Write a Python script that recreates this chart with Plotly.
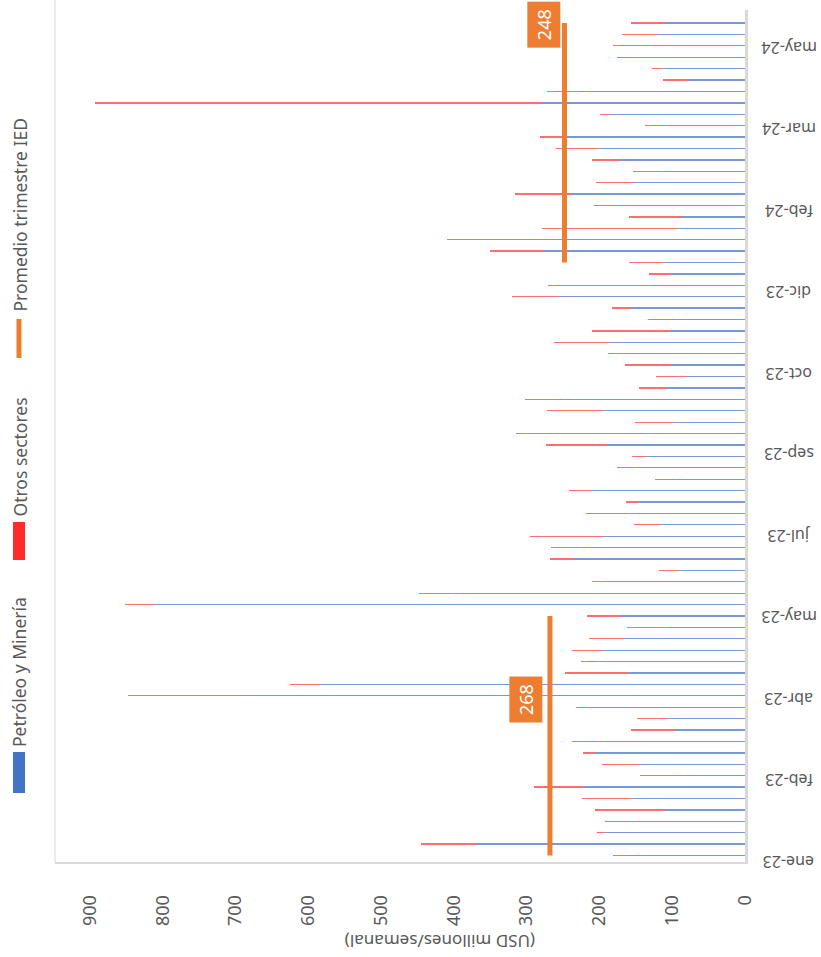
import pandas as pd
import plotly.graph_objects as go

# ---------------- data ----------------
week_start = "2023-01-05"
n_weeks = 74
semanas = pd.date_range(week_start, periods=n_weeks, freq="7D")

petroleo_mineria = [159, 370, 192, 159, 110, 156, 221, 85, 145, 206,
                    195, 96, 106, 214, 694, 584, 161, 199, 195, 166,
                    103, 170, 811, 401, 191, 92, 236, 227, 194, 117,
                    160, 145, 212, 98, 151, 136, 189, 135, 98, 192,
                    250, 107, 81, 101, 173, 187, 103, 95, 156, 255,
                    142, 101, 112, 276, 261, 94, 86, 186, 238, 152,
                    113, 172, 202, 245, 118, 185, 280, 216, 79, 114,
                    169, 140, 121, 110]
total_semana = [181, 445, 203, 193, 206, 224, 290, 144, 197, 222,
                238, 156, 148, 232, 848, 625, 247, 225, 238, 214,
                162, 217, 852, 448, 210, 118, 268, 267, 295, 153,
                219, 164, 242, 124, 176, 155, 273, 315, 151, 272,
                302, 146, 122, 165, 188, 262, 210, 133, 183, 320,
                270, 132, 160, 350, 410, 279, 160, 208, 316, 205,
                154, 210, 259, 282, 137, 199, 893, 272, 113, 128,
                176, 181, 169, 156]
otros_sectores = [t - p for t, p in zip(total_semana, petroleo_mineria)]

promedio_ied = [268] * 22 + [None] * 30 + [248] * 22
etiquetas_fechas = ["2023-04-11", "2024-05-29"]
etiquetas_valores = [268, 248]

tick_fechas = ["2023-01-01", "2023-02-20", "2023-04-11", "2023-05-31",
               "2023-07-20", "2023-09-08", "2023-10-28", "2023-12-17",
               "2024-02-05", "2024-03-26", "2024-05-15"]
tick_textos = ["ene-23", "feb-23", "abr-23", "may-23", "jul-23", "sep-23",
               "oct-23", "dic-23", "feb-24", "mar-24", "may-24"]
x_ticks = [0, 100, 200, 300, 400, 500, 600, 700, 800, 900]

# ---------------- layout constants ----------------
W, H = 821, 957
L, R, T, B = 55, 745, 10, 862
GRAY = "#595959"
FONT = "Noto Sans"
BLUE = "#4472C4"
RED = "#FF2A2A"
ORANGE = "#ED7D31"


def px(xp):
    return (xp - L) / (R - L)


def py(yp):
    return (B - yp) / (B - T)


fig = go.Figure()
bar_w = 86400000 * 0.8
fig.add_trace(go.Bar(y=semanas, x=petroleo_mineria, orientation="h",
                     name="Petróleo y Minería", marker=dict(color=BLUE, line=dict(width=0)),
                     width=bar_w, opacity=0.72))
fig.add_trace(go.Bar(y=semanas, x=otros_sectores, orientation="h",
                     name="Otros sectores", marker=dict(color=RED, line=dict(width=0)),
                     width=bar_w, opacity=0.68))
fig.add_trace(go.Scatter(y=semanas, x=promedio_ied, mode="lines",
                         name="Promedio trimestre IED",
                         line=dict(color=ORANGE, width=5), connectgaps=False))

annotations = []
label_shifts = [-24, -21]
for fecha, val, xs in zip(etiquetas_fechas, etiquetas_valores, label_shifts):
    annotations.append(dict(x=val, y=fecha, xref="x", yref="y",
                            text="\u2009" + str(val) + "\u2009",
                            showarrow=False, textangle=-90, xshift=xs,
                            xanchor="center", yanchor="middle",
                            bgcolor=ORANGE, borderpad=4,
                            font=dict(family=FONT, size=18, color="white")))

# date tick labels (upside down)
for f, t in zip(tick_fechas, tick_textos):
    annotations.append(dict(x=px(789), y=f, xref="paper", yref="y", text=t,
                            showarrow=False, textangle=180,
                            xanchor="center", yanchor="middle",
                            font=dict(family=FONT, size=16, color=GRAY)))

# legend (rotated)
leg = [("Petróleo y Minería", 793, 752, "bar", BLUE),
       ("Otros sectores", 560, 522, "bar", RED),
       ("Promedio trimestre IED", 360, 317, "line", ORANGE)]
shapes = []
for txt, y0, y1, kind, col in leg:
    if kind == "bar":
        shapes.append(dict(type="rect", xref="paper", yref="paper",
                           x0=px(13), x1=px(25), y0=py(y0), y1=py(y1),
                           fillcolor=col, line=dict(width=0)))
    else:
        shapes.append(dict(type="line", xref="paper", yref="paper",
                           x0=px(19), x1=px(19), y0=py(y0 - 2), y1=py(y1 + 2),
                           line=dict(color=col, width=5)))
    annotations.append(dict(x=px(19), y=py(y1 - 3), xref="paper", yref="paper",
                            text=txt, showarrow=False, textangle=-90,
                            xanchor="center", yanchor="bottom",
                            font=dict(family=FONT, size=17.5, color=GRAY)))

# left border line
shapes.append(dict(type="line", xref="paper", yref="paper", x0=0, x1=0, y0=0, y1=1.02,
                   line=dict(color="#D9D9D9", width=1)))

annotations.append(dict(x=px(440), y=py(942), xref="paper", yref="paper",
                        text="(USD millones/semanal)", showarrow=False, textangle=180,
                        xanchor="center", yanchor="middle",
                        font=dict(family=FONT, size=17, color=GRAY)))

fig.update_layout(
    width=W, height=H,
    margin=dict(l=L, r=W - R, t=T, b=H - B, pad=0),
    paper_bgcolor="white", plot_bgcolor="white",
    barmode="stack", bargap=0,
    showlegend=False,
    hovermode=False,
    font=dict(family=FONT, color=GRAY, size=15),
    annotations=annotations, shapes=shapes,
    xaxis=dict(range=[948, 0], tickvals=x_ticks, tickangle=-90,
               showgrid=False, zeroline=False, showline=True,
               linecolor="#D9D9D9", linewidth=2,
               ticks="outside", ticklen=24, tickcolor="rgba(0,0,0,0)",
               automargin=False,
               tickfont=dict(family=FONT, size=18, color=GRAY)),
    yaxis=dict(type="date", range=["2023-01-01", "2024-06-07"],
               showticklabels=False, side="right",
               showgrid=False, zeroline=False, showline=True,
               linecolor="#D9D9D9", linewidth=3, ticks="",
               automargin=False),
)

fig.write_html("out.html", config={"displayModeBar": False, "staticPlot": True},
               post_script="document.body.style.margin='0px';document.body.style.overflow='hidden';")
